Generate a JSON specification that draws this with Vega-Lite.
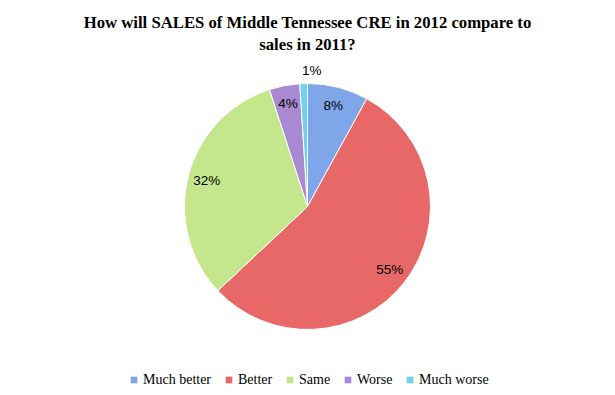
{
  "$schema": "https://vega.github.io/schema/vega-lite/v6.json",
  "width": 615,
  "height": 395,
  "autosize": {"type": "fit", "contains": "padding"},
  "padding": {"top": 15, "left": 5, "right": 5, "bottom": 8},
  "background": "white",
  "config": {
    "view": {"stroke": null},
    "font": "Liberation Serif",
    "legend": {"layout": {"bottom": {"anchor": "middle"}}}
  },
  "title": {
    "text": ["How will SALES of Middle Tennessee CRE in 2012 compare to", "sales in 2011?"],
    "font": "Liberation Serif",
    "fontSize": 16.7,
    "fontWeight": "bold",
    "color": "black",
    "lineHeight": 22,
    "anchor": "middle",
    "offset": 6
  },
  "data": {
    "values": [
      {"category": "Much better", "value": 8, "label": "8%", "idx": 1},
      {"category": "Better", "value": 55, "label": "55%", "idx": 2},
      {"category": "Same", "value": 32, "label": "32%", "idx": 3},
      {"category": "Worse", "value": 4, "label": "4%", "idx": 4},
      {"category": "Much worse", "value": 1, "label": "1%", "idx": 5}
    ]
  },
  "encoding": {
    "theta": {"field": "value", "type": "quantitative", "stack": true},
    "order": {"field": "idx", "type": "quantitative"},
    "color": {
      "field": "category",
      "type": "nominal",
      "sort": ["Much better", "Better", "Same", "Worse", "Much worse"],
      "scale": {
        "domain": ["Much better", "Better", "Same", "Worse", "Much worse"],
        "range": ["#7ea6e8", "#e86868", "#c4e68c", "#a98ad2", "#6fd2ec"]
      },
      "legend": {
        "title": null,
        "orient": "bottom",
        "direction": "horizontal",
        "symbolType": "square",
        "symbolSize": 45,
        "symbolStrokeWidth": 0,
        "labelFont": "Liberation Serif",
        "labelFontSize": 14,
        "labelColor": "black",
        "labelOffset": 2,
        "columnPadding": 10,
        "offset": 20
      }
    }
  },
  "layer": [
    {
      "mark": {"type": "arc", "outerRadius": 123, "stroke": "white", "strokeWidth": 1}
    },
    {
      "transform": [{"filter": "datum.value > 1"}],
      "mark": {"type": "text", "radius": 104, "font": "Liberation Sans", "fontSize": 13.5},
      "encoding": {
        "text": {"field": "label", "type": "nominal"},
        "color": {"value": "black"}
      }
    },
    {
      "transform": [{"filter": "datum.value <= 1"}],
      "mark": {"type": "text", "radius": 136, "font": "Liberation Sans", "fontSize": 13.5},
      "encoding": {
        "text": {"field": "label", "type": "nominal"},
        "color": {"value": "black"}
      }
    }
  ]
}
